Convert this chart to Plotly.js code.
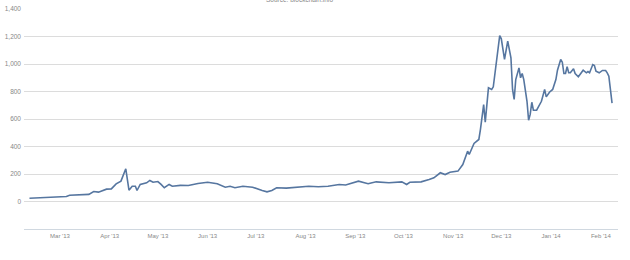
<!DOCTYPE html>
<html>
<head>
<meta charset="utf-8">
<script src="https://cdn.plot.ly/plotly-3.0.1.min.js"></script>
<style>
html,body{margin:0;padding:0;background:#fff;}
#chart{width:630px;height:260px;}
</style>
</head>
<body>
<div id="chart"></div>
<script>
const dates = [
"2013-02-10","2013-02-16","2013-02-26","2013-03-05","2013-03-07","2013-03-13","2013-03-19","2013-03-22","2013-03-25","2013-03-30",
"2013-04-02","2013-04-05","2013-04-08","2013-04-11","2013-04-13","2013-04-15","2013-04-17","2013-04-18","2013-04-20","2013-04-24",
"2013-04-26","2013-04-28","2013-05-01","2013-05-03","2013-05-05","2013-05-08","2013-05-10","2013-05-15","2013-05-20","2013-05-26",
"2013-06-01","2013-06-07","2013-06-12","2013-06-15","2013-06-18","2013-06-23","2013-06-29","2013-07-05","2013-07-08","2013-07-11",
"2013-07-14","2013-07-20","2013-07-26","2013-08-03","2013-08-09","2013-08-12","2013-08-15","2013-08-22","2013-08-26","2013-09-03",
"2013-09-09","2013-09-14","2013-09-22","2013-09-30","2013-10-03","2013-10-05","2013-10-12","2013-10-17","2013-10-20","2013-10-24",
"2013-10-27","2013-10-30","2013-11-04","2013-11-07","2013-11-10","2013-11-11","2013-11-14","2013-11-17","2013-11-18","2013-11-20",
"2013-11-21","2013-11-23","2013-11-25","2013-11-26","2013-11-29","2013-11-30","2013-12-01","2013-12-03","2013-12-05","2013-12-07",
"2013-12-08","2013-12-09","2013-12-10","2013-12-12","2013-12-13","2013-12-14","2013-12-15","2013-12-17","2013-12-18","2013-12-19",
"2013-12-20","2013-12-21","2013-12-23","2013-12-25","2013-12-26","2013-12-28","2013-12-29","2013-12-31","2014-01-02","2014-01-04",
"2014-01-05","2014-01-07","2014-01-08","2014-01-09","2014-01-10","2014-01-11","2014-01-12","2014-01-13","2014-01-15","2014-01-16",
"2014-01-18","2014-01-21","2014-01-23","2014-01-24","2014-01-25","2014-01-27","2014-01-28","2014-01-29","2014-01-31","2014-02-02",
"2014-02-04","2014-02-05","2014-02-06","2014-02-08"
];
const prices = [
24,27,31,36,46,47,52,73,68,90,
92,128,148,238,82,111,111,80,124,136,
153,140,145,124,100,124,111,117,116,131,
140,129,104,111,100,111,104,80,70,80,
100,97,104,111,107,107,111,124,120,148,
129,143,136,143,124,140,143,160,172,209,
196,213,221,269,366,342,422,451,524,705,
577,827,815,834,1093,1207,1183,1033,1166,1045,
815,742,887,972,900,931,887,729,591,633,
722,664,664,705,729,815,761,795,815,887,
955,1033,1013,931,931,980,936,936,965,931,
907,955,936,945,936,996,989,948,936,953,
953,936,911,715
];
const tickDates = ["2013-03-01","2013-04-01","2013-05-01","2013-06-01","2013-07-01","2013-08-01","2013-09-01","2013-10-01","2013-11-01","2013-12-01","2014-01-01","2014-02-01"];
const tickLabels = ["Mar '13","Apr '13","May '13","Jun '13","Jul '13","Aug '13","Sep '13","Oct '13","Nov '13","Dec '13","Jan '14","Feb '14"];
const yTicks = [0,200,400,600,800,1000,1200,1400];
const sourceText = "Source: blockchain.info";

const trace = {
  x: dates, y: prices, type: 'scatter', mode: 'lines',
  line: {color: '#5676a0', width: 1.6}, hoverinfo: 'x+y'
};

const layout = {
  width: 630, height: 260,
  margin: {l: 24, r: 12, t: 9, b: 31, pad: 0},
  paper_bgcolor: '#fff', plot_bgcolor: '#fff',
  showlegend: false,
  font: {family: 'Liberation Sans, Arial, sans-serif', color: '#888888', size: 6},
  xaxis: {
    type: 'date',
    range: ['2013-02-06 14:00', '2014-02-11 17:00'],
    tickvals: tickDates, ticktext: tickLabels,
    showgrid: false, zeroline: false,
    showline: true, linecolor: '#d0d8e0', linewidth: 1,
    ticks: '', ticklabelstandoff: 1,
    tickfont: {size: 6, color: '#888888'}
  },
  yaxis: {
    range: [-200, 1400],
    tickvals: yTicks, tickformat: ',d',
    showgrid: true, gridcolor: '#dcdcdc', gridwidth: 1,
    zeroline: false, showline: false,
    ticks: '', ticklabelstandoff: 2,
    tickfont: {size: 6.5, color: '#888888'}
  },
  annotations: [{
    text: sourceText, xref: 'paper', yref: 'paper',
    x: 0.465, y: 1.045, xanchor: 'center', yanchor: 'middle',
    showarrow: false, font: {size: 6.5, color: '#888888'}
  }]
};

Plotly.newPlot('chart', [trace], layout, {staticPlot: true, displayModeBar: false});
</script>
</body>
</html>
